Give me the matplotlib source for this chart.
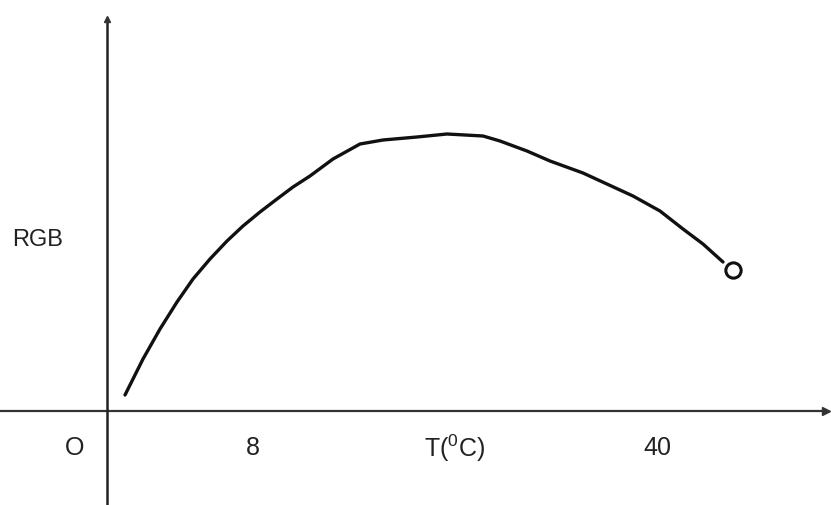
import numpy as np
import matplotlib
matplotlib.use('Agg')
import matplotlib.pyplot as plt

plt.rcParams['font.family'] = ['Liberation Sans', 'DejaVu Sans']
plt.rcParams['mathtext.fontset'] = 'custom'
plt.rcParams['mathtext.rm'] = 'Liberation Sans'

# 曲线上读出的点（以画面坐标为单位）
curve_x = [125, 143, 160, 177, 193, 210, 227, 243, 260, 277, 293, 310, 333, 360, 383,
           417, 447, 483, 500, 527, 550, 583, 633, 660, 683, 703, 723]
curve_y = [396, 360, 330, 303, 280, 260, 242, 227, 213, 200, 188, 177, 160, 145, 141,
           138, 135, 137, 142, 152, 162, 174, 197, 212, 230, 245, 263]
end_point = (733, 271)

# 坐标轴位置
origin_x = 107
origin_y = 412

# 横轴标签
tick_labels = ['O', '8', 'T($\\mathregular{^0}$C)', '40']
tick_pos = [75, 253, 455, 657]


fig = plt.figure(figsize=(8.31, 5.06), dpi=100)
ax = fig.add_axes([0, 0, 1, 1])
ax.set_xlim(0, 831)
ax.set_ylim(506, 0)
ax.axis('off')

# 坐标轴
ax.plot([0, 826], [origin_y, origin_y], color='#333333', lw=1.6)
ax.plot([origin_x, origin_x], [22, 506], color='#222222', lw=1.8)
ax.plot(826, origin_y, marker='>', color='#333333', ms=6)
ax.plot(origin_x, 20, marker='^', color='#333333', ms=5)

# 曲线
ax.plot(curve_x, curve_y, color='#111111', lw=2.4, solid_capstyle='round',
        solid_joinstyle='round')
ax.plot(*end_point, marker='o', ms=11, mfc='white', mec='#111111', mew=2.2)

ax.text(38, 240, 'RGB', fontsize=17, ha='center', va='center', color='#222222')
for p, t in zip(tick_pos, tick_labels):
    ax.text(p, 448, t, fontsize=18, ha='center', va='center', color='#222222')

plt.savefig('out.png', dpi=100)
